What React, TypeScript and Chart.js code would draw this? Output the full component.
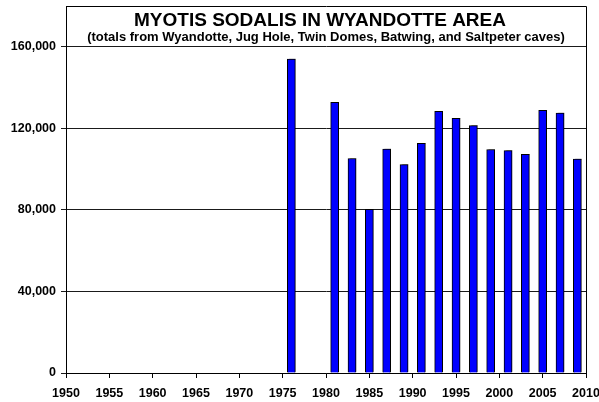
import React, { useEffect, useRef } from "react";
import { Chart, registerables } from "chart.js";

Chart.register(...registerables);

const years = [1976, 1981, 1983, 1985, 1987, 1989, 1991, 1993, 1995, 1997, 1999, 2001, 2003, 2005, 2007, 2009];
const counts = [154000, 132800, 105200, 80300, 109800, 102200, 112600, 128300, 124900, 121300, 109600, 109100, 107200, 128800, 127500, 104900];
const yTickValues = [0, 40000, 80000, 120000, 160000];
const titleText = "MYOTIS SODALIS IN WYANDOTTE AREA";
const subtitleText = "(totals from Wyandotte, Jug Hole, Twin Domes, Batwing, and Saltpeter caves)";

const FONT = "'Liberation Sans', Arial, sans-serif";

export default function App() {
  const ref = useRef<HTMLCanvasElement | null>(null);

  useEffect(() => {
    if (!ref.current) return;
    const framePlugin = {
      id: "frame",
      beforeDatasetsDraw(chart: any) {
        const ctx = chart.ctx;
        ctx.save();
        ctx.shadowColor = "rgba(0,0,0,0.35)";
        ctx.shadowOffsetX = 2;
        ctx.shadowOffsetY = -1;
        ctx.shadowBlur = 0;
      },
      afterDatasetsDraw(chart: any) {
        chart.ctx.restore();
      },
      afterDraw(chart: any) {
        const ctx = chart.ctx;
        const a = chart.chartArea;
        ctx.save();
        ctx.strokeStyle = "#000";
        ctx.lineWidth = 1;
        ctx.beginPath();
        ctx.moveTo(Math.round(a.left) + 0.5, Math.round(a.top) + 0.5);
        ctx.lineTo(Math.round(a.right) + 0.5, Math.round(a.top) + 0.5);
        ctx.lineTo(Math.round(a.right) + 0.5, Math.round(a.bottom) + 0.5);
        ctx.stroke();
        ctx.fillStyle = "#000";
        ctx.textAlign = "center";
        ctx.textBaseline = "alphabetic";
        ctx.font = `bold 19px ${FONT}`;
        ctx.fillText(titleText, 320, 26);
        ctx.font = `bold 13px ${FONT}`;
        ctx.fillText(subtitleText, 326, 41);
        ctx.restore();
      },
    };

    const chart = new Chart(ref.current, {
      type: "bar",
      data: {
        datasets: [
          {
            data: years.map((y, i) => ({ x: y, y: counts[i] })),
            backgroundColor: "#0000ff",
            borderColor: "#000",
            borderWidth: 1,
            barThickness: 8,
          },
        ],
      },
      options: {
        responsive: false,
        animation: false,
        layout: { padding: { top: 6, right: 13, left: 0, bottom: 0 } },
        plugins: { legend: { display: false }, tooltip: { enabled: false }, title: { display: false } },
        scales: {
          x: {
            type: "linear",
            min: 1950,
            max: 2010,
            offset: false,
            grid: { offset: false, drawOnChartArea: false, drawTicks: true, tickLength: 5, color: "#000" },
            border: { color: "#000", width: 1 },
            ticks: {
              stepSize: 5,
              autoSkip: false,
              maxRotation: 0,
              padding: 8,
              color: "#000",
              font: { family: FONT, size: 12.5, weight: "bold" },
              callback: (v: any) => String(v),
            },
            afterFit: (s: any) => {
              s.height = 29;
              s.paddingLeft = 0;
              s.paddingRight = 0;
            },
          },
          y: {
            min: 0,
            max: 180000,
            grid: { color: "#1a1a1a", tickLength: 5, drawTicks: true },
            border: { color: "#000", width: 1 },
            afterBuildTicks: (s: any) => {
              s.ticks = yTickValues.map((v) => ({ value: v }));
            },
            ticks: {
              padding: 5,
              color: "#000",
              font: { family: FONT, size: 12.5, weight: "bold" },
              callback: (v: any) => Number(v).toLocaleString("en-US"),
            },
            afterFit: (s: any) => {
              s.width = 66;
              s.paddingTop = 0;
              s.paddingBottom = 0;
            },
          },
        },
      },
      plugins: [framePlugin],
    } as any);
    return () => chart.destroy();
  }, []);

  return (
    <div style={{ position: "absolute", left: 0, top: 0, width: 599, height: 402, background: "#fff" }}>
      <canvas ref={ref} width={599} height={402} style={{ width: 599, height: 402, display: "block" }} />
    </div>
  );
}
